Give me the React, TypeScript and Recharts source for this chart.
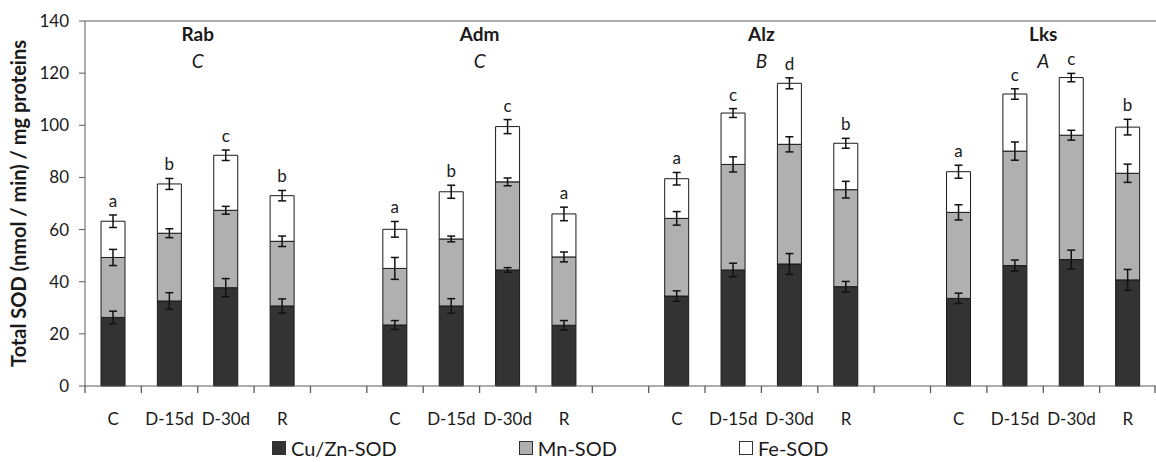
import { Bar, BarChart, ErrorBar, Label, LabelList, Legend, ReferenceArea, ReferenceLine, XAxis, YAxis } from "recharts";

const groups = ["Rab", "Adm", "Alz", "Lks"];
const groupLetters = ["C", "C", "B", "A"];
const times = ["C", "D-15d", "D-30d", "R"];

// one value per bar: Rab C..R, Adm C..R, Alz C..R, Lks C..R
const cuZnSod = [26.3, 32.6, 37.7, 30.7, 23.4, 30.7, 44.5, 23.3, 34.5, 44.5, 46.8, 38.1, 33.6, 46.2, 48.5, 40.7];
const cuZnErr = [2.4, 3.2, 3.5, 2.7, 1.7, 2.8, 0.9, 1.8, 2.0, 2.6, 4.0, 2.0, 2.0, 2.1, 3.6, 4.0];
const mnSod = [23.0, 26.0, 29.7, 24.8, 21.7, 25.7, 33.8, 26.2, 29.8, 40.5, 45.9, 37.2, 33.0, 43.9, 47.7, 40.9];
const mnErr = [3.1, 1.7, 1.5, 2.0, 4.2, 1.1, 1.5, 1.9, 2.6, 2.9, 2.9, 3.2, 2.9, 3.5, 1.9, 3.5];
const feSod = [13.9, 18.9, 21.1, 17.5, 15.0, 18.1, 21.2, 16.5, 15.2, 19.7, 23.4, 17.8, 15.6, 21.9, 22.1, 17.7];
const feErr = [2.4, 2.1, 2.0, 2.0, 3.0, 2.5, 2.7, 2.6, 2.4, 1.7, 2.1, 1.9, 2.5, 2.0, 1.6, 3.0];
const sigLetters = ["a", "b", "c", "b", "a", "b", "c", "a", "a", "c", "d", "b", "a", "c", "c", "b"];
const yTicks = [0, 20, 40, 60, 80, 100, 120, 140];

const FONT = "Lato, 'Open Sans', sans-serif";
const AXIS = "#5a5a5a";
const TEXT = "#1a1a1a";

type Row = {
  key: string;
  label: string;
  cu?: number;
  cuErr?: number;
  mn?: number;
  mnErr?: number;
  fe?: number;
  feErr?: number;
  sig?: string;
};

const rows: Row[] = [];
groups.forEach((g, gi) => {
  times.forEach((t, ti) => {
    const i = gi * times.length + ti;
    rows.push({
      key: `${g}|${t}`,
      label: t,
      cu: cuZnSod[i],
      cuErr: cuZnErr[i],
      mn: mnSod[i],
      mnErr: mnErr[i],
      fe: feSod[i],
      feErr: feErr[i],
      sig: sigLetters[i],
    });
  });
  if (gi < groups.length - 1) rows.push({ key: `gap-${g}`, label: "" });
});

function XTick(props: any) {
  const { x, y, payload } = props;
  const idx = payload.index;
  const row = rows[idx];
  // tick marks sit on the category boundaries: half a band left of the label
  const half = Number(payload.offset) || 0;
  const y0 = Number(y);
  return (
    <g>
      <line x1={x - half} x2={x - half} y1={y0} y2={y0 + 7} stroke={AXIS} strokeWidth={1.3} />
      {idx === rows.length - 1 && <line x1={x + half - 1} x2={x + half - 1} y1={y0} y2={y0 + 7} stroke={AXIS} strokeWidth={1.3} />}
      <text x={x} y={y0 + 32} textAnchor="middle" dominantBaseline="central" fontSize={17} fontFamily={FONT} fill={TEXT}>
        {row ? row.label : ""}
      </text>
    </g>
  );
}

function SigLabel(props: any) {
  const { x, y, width, height, value } = props;
  const row = rows.find((r) => r.key === value);
  if (!row || row.fe == null || row.feErr == null) return null;
  const errPx = (row.feErr * Math.abs(height)) / row.fe;
  return (
    <text x={x + width / 2} y={y - errPx - 8} textAnchor="middle" fontSize={17} fontFamily={FONT} fill={TEXT}>
      {row.sig}
    </text>
  );
}

function YTitle(props: any) {
  const vb = props.viewBox;
  const cx = vb.x + 18;
  const cy = vb.y + vb.height / 2;
  return (
    <text
      x={cx}
      y={cy}
      transform={`rotate(-90 ${cx} ${cy})`}
      textAnchor="middle"
      dominantBaseline="central"
      fontSize={20}
      fontWeight="bold"
      fontFamily={FONT}
      fill={TEXT}
    >
      Total SOD (nmol / min) / mg proteins
    </text>
  );
}

function groupTitle(name: string, letter: string) {
  return (props: any) => {
    const vb = props.viewBox;
    const cx = vb.x + vb.width / 2;
    return (
      <g fontFamily={FONT} fill={TEXT}>
        <text x={cx} y={vb.y + 12} textAnchor="middle" dominantBaseline="central" fontSize={19} fontWeight="bold">
          {name}
        </text>
        <text x={cx} y={vb.y + 39} textAnchor="middle" dominantBaseline="central" fontSize={19} fontStyle="italic">
          {letter}
        </text>
      </g>
    );
  };
}

const legendItems = [
  { name: "Cu/Zn-SOD", color: "#333333" },
  { name: "Mn-SOD", color: "#b0b0b0" },
  { name: "Fe-SOD", color: "#ffffff" },
];

function LegendBox() {
  return (
    <div style={{ display: "flex", alignItems: "center", paddingLeft: 272, gap: 122, fontFamily: FONT, fontSize: 20, color: TEXT }}>
      {legendItems.map((it) => (
        <div key={it.name} style={{ display: "flex", alignItems: "center", gap: 5 }}>
          <span style={{ width: 12, height: 12, background: it.color, border: "1px solid #333", display: "inline-block" }} />
          <span>{it.name}</span>
        </div>
      ))}
    </div>
  );
}

export default function App() {
  return (
    <div style={{ position: "absolute", left: 0, top: 0, background: "#fff" }}>
      <BarChart width={1156} height={462} data={rows} margin={{ top: 21, right: 0, bottom: 0, left: 0 }} barSize={24}>
        <XAxis
          dataKey="key"
          interval={0}
          height={50}
          tickLine={false}
          tickSize={0}
          tickMargin={0}
          axisLine={{ stroke: AXIS }}
          tick={<XTick />}
        />
        <YAxis
          domain={[0, 140]}
          ticks={yTicks}
          width={85}
          tickSize={6}
          tickMargin={10}
          axisLine={{ stroke: AXIS }}
          tickLine={{ stroke: AXIS }}
          tick={{ fontSize: 17, fontFamily: FONT, fill: TEXT }}
        >
          <Label content={<YTitle />} />
        </YAxis>
        <ReferenceLine y={140} stroke={AXIS} />
        {groups.map((g, gi) => (
          <ReferenceArea
            key={g}
            x1={`${g}|C`}
            x2={`${g}|R`}
            y1={0}
            y2={140}
            fill="none"
            fillOpacity={0}
            strokeOpacity={0}
            label={groupTitle(g, groupLetters[gi])}
          />
        ))}
        <Bar dataKey="cu" stackId="s" fill="#333333" stroke="#1a1a1a" strokeWidth={1} isAnimationActive={false}>
          <ErrorBar dataKey="cuErr" width={4} stroke="#111" strokeWidth={1.5} direction="y" />
        </Bar>
        <Bar dataKey="mn" stackId="s" fill="#b0b0b0" stroke="#1a1a1a" strokeWidth={1} isAnimationActive={false}>
          <ErrorBar dataKey="mnErr" width={4} stroke="#111" strokeWidth={1.5} direction="y" />
        </Bar>
        <Bar dataKey="fe" stackId="s" fill="#ffffff" stroke="#1a1a1a" strokeWidth={1} isAnimationActive={false}>
          <ErrorBar dataKey="feErr" width={4} stroke="#111" strokeWidth={1.5} direction="y" />
          <LabelList dataKey="key" content={<SigLabel />} />
        </Bar>
        <Legend verticalAlign="bottom" height={26} content={<LegendBox />} />
      </BarChart>
    </div>
  );
}
